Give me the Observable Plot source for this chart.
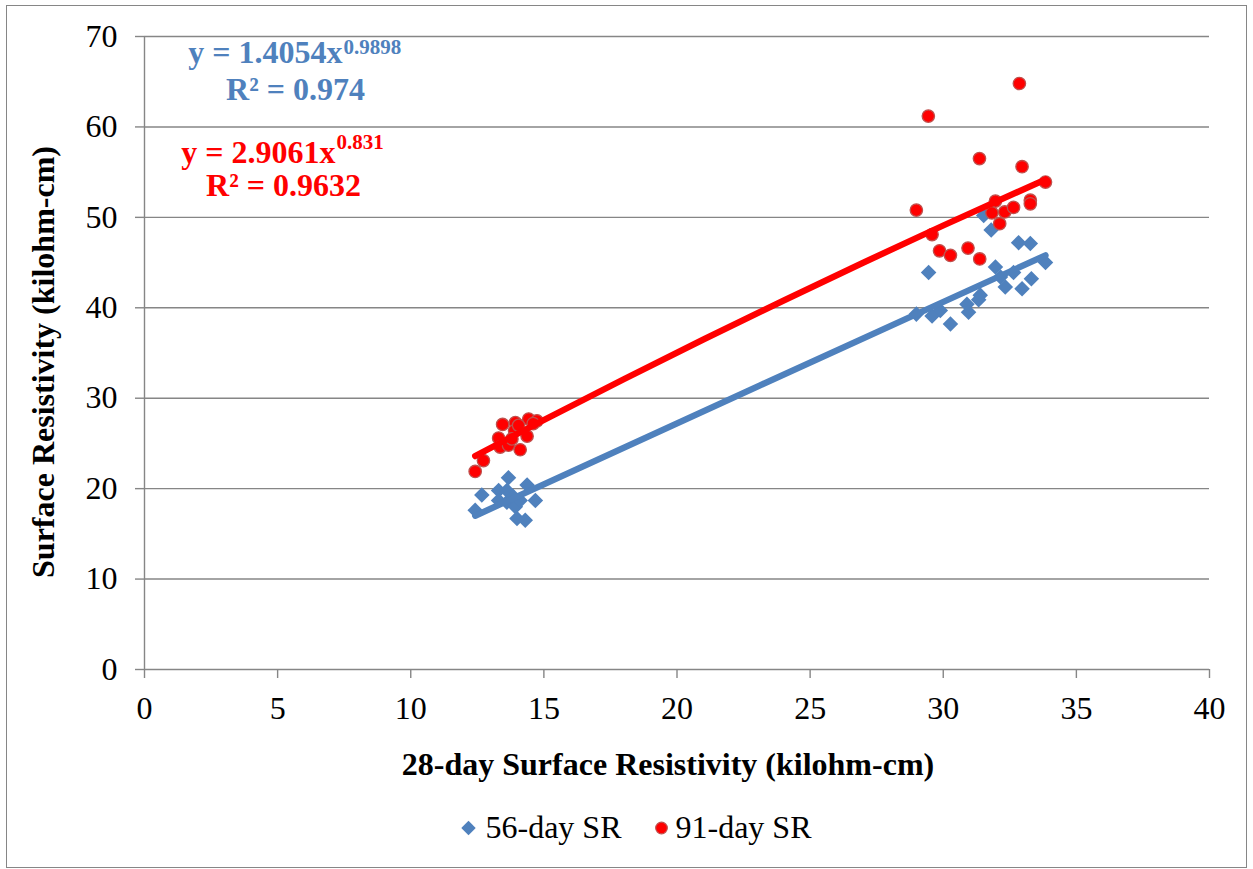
<!DOCTYPE html>
<html>
<head>
<meta charset="utf-8">
<script src="https://cdn.jsdelivr.net/npm/d3@7"></script>
<script src="https://cdn.jsdelivr.net/npm/@observablehq/plot@0.6"></script>
<style>
  html, body { margin: 0; padding: 0; background: #fff; }
  #wrap { position: relative; width: 1253px; height: 869px; overflow: hidden; }
  #border { position: absolute; left: 6px; top: 5px; width: 1241px; height: 863px; box-sizing: border-box; border: 1.5px solid #868686; pointer-events: none; }
</style>
</head>
<body>
<div id="wrap"><div id="border"></div></div>
<script>
// ---- Data ----
const x56 = [12.42, 12.67, 13.30, 13.67, 13.61, 13.30, 13.61, 13.86, 14.37, 14.68, 13.99, 14.30, 13.93, 14.11,
             31.52, 31.80, 32.83, 33.27, 29.45, 31.96, 32.15, 32.64, 33.84, 32.33, 32.96, 33.31, 31.39, 31.33, 30.89, 30.95, 29.89, 29.58, 28.99, 30.27];
const y56 = [17.6, 19.3, 19.8, 21.2, 19.8, 18.7, 18.5, 19.1, 20.4, 18.7, 16.7, 16.5, 18.0, 18.7,
             50.2, 48.6, 47.2, 47.1, 43.9, 44.5, 43.4, 43.9, 45.0, 42.3, 42.1, 43.2, 41.4, 40.9, 40.4, 39.5, 39.7, 39.1, 39.3, 38.2];
const x91 = [12.42, 12.73, 13.30, 13.45, 13.93, 13.90, 14.43, 14.74, 14.37, 14.11, 13.36, 13.67, 13.80, 14.05, 14.60,
             28.99, 29.58, 29.86, 30.27, 30.93, 31.37, 31.96, 31.83, 32.12, 32.31, 32.64, 33.27, 33.27, 33.84, 32.96, 32.86, 29.44, 31.36];
const y91 = [21.9, 23.1, 25.6, 27.1, 27.3, 26.4, 27.7, 27.5, 25.8, 24.3, 24.6, 24.8, 25.5, 27.0, 27.2,
             50.8, 48.1, 46.3, 45.8, 46.6, 45.4, 51.8, 50.5, 49.3, 50.6, 51.1, 51.9, 51.5, 53.9, 55.6, 64.8, 61.2, 56.5];
// Trendline points (power fits shown on chart)
const trend56X = [12.42, 23.1, 33.84];
const trend56Y = [17.0, 31.4, 45.8];
const trend91X = [12.42, 15, 18, 21, 24, 27, 30, 33.84];
const trend91Y = [23.6, 27.6, 32.1, 36.5, 40.8, 45.0, 49.1, 54.2];
const xTicks = [0, 5, 10, 15, 20, 25, 30, 35, 40];
const yTicks = [0, 10, 20, 30, 40, 50, 60, 70];
const series = ["56-day SR", "91-day SR"];
const eq56 = ["y = 1.4054x", "0.9898", "R² = 0.974"];
const eq91 = ["y = 2.9061x", "0.831", "R² = 0.9632"];
const xLabel = "28-day Surface Resistivity (kilohm-cm)";
const yLabel = "Surface Resistivity (kilohm-cm)";

const BLUE = "#4f81bd", RED = "#ff0000", GRAY = "#868686";
const pts56 = x56.map((x, i) => ({x, y: y56[i]}));
const pts91 = x91.map((x, i) => ({x, y: y91[i]}));
const tr56 = trend56X.map((x, i) => ({x, y: trend56Y[i]}));
const tr91 = trend91X.map((x, i) => ({x, y: trend91Y[i]}));
const font = "'Liberation Serif','Times New Roman',serif";
const T = d => d;

const chart = Plot.plot({
  width: 1253, height: 869,
  marginLeft: 144, marginRight: 44, marginTop: 36, marginBottom: 200,
  style: {fontFamily: font, fontSize: "32px", background: "transparent", color: "black"},
  x: {domain: [0, 40]},
  y: {domain: [0, 70]},
  marks: [
    Plot.gridY({ticks: yTicks.slice(1), stroke: GRAY, strokeOpacity: 1, strokeWidth: 1.4}),
    Plot.axisX({ticks: xTicks, tickSize: 9, tickPadding: 18, fontSize: 32, label: null, stroke: GRAY, strokeWidth: 1.4, fill: "black"}),
    Plot.axisY({ticks: yTicks, tickSize: 9, tickPadding: 18, fontSize: 32, label: null, stroke: GRAY, strokeWidth: 1.4, fill: "black"}),
    Plot.ruleY([0], {stroke: GRAY, strokeWidth: 1.4}),
    Plot.ruleX([0], {stroke: GRAY, strokeWidth: 1.4}),
    Plot.dot(pts56, {x: "x", y: "y", symbol: "diamond2", r: 7, fill: BLUE, stroke: "none"}),
    Plot.dot(pts91, {x: "x", y: "y", r: 6.2, fill: RED, stroke: "#c0504d", strokeWidth: 1.3}),
    Plot.line(tr56, {x: "x", y: "y", curve: "monotone-x", stroke: BLUE, strokeWidth: 6.3, strokeLinecap: "round"}),
    Plot.line(tr91, {x: "x", y: "y", curve: "monotone-x", stroke: RED, strokeWidth: 6.3, strokeLinecap: "round"}),
    // Equations
    Plot.text([eq56[0]], {text: T, frameAnchor: "top-left", dx: 198, dy: 26.5, textAnchor: "end", lineAnchor: "bottom", fill: BLUE, fontWeight: "bold", fontSize: 32}),
    Plot.text([eq56[1]], {text: T, frameAnchor: "top-left", dx: 199, dy: 17.5, textAnchor: "start", lineAnchor: "bottom", fill: BLUE, fontWeight: "bold", fontSize: 21}),
    Plot.text([eq56[2]], {text: T, frameAnchor: "top-left", dx: 151, dy: 63, textAnchor: "middle", lineAnchor: "bottom", fill: BLUE, fontWeight: "bold", fontSize: 32}),
    Plot.text([eq91[0]], {text: T, frameAnchor: "top-left", dx: 191, dy: 126.5, textAnchor: "end", lineAnchor: "bottom", fill: RED, fontWeight: "bold", fontSize: 32}),
    Plot.text([eq91[1]], {text: T, frameAnchor: "top-left", dx: 192, dy: 112.5, textAnchor: "start", lineAnchor: "bottom", fill: RED, fontWeight: "bold", fontSize: 21}),
    Plot.text([eq91[2]], {text: T, frameAnchor: "top-left", dx: 139, dy: 159, textAnchor: "middle", lineAnchor: "bottom", fill: RED, fontWeight: "bold", fontSize: 32}),
    // Axis titles
    Plot.text([xLabel], {text: T, frameAnchor: "bottom", dx: -9, dy: 95, textAnchor: "middle", lineAnchor: "middle", fontWeight: "bold", fontSize: 32, fill: "black"}),
    Plot.text([yLabel], {text: T, frameAnchor: "left", dx: -101, dy: 9, rotate: -90, textAnchor: "middle", lineAnchor: "middle", fontWeight: "bold", fontSize: 32, fill: "black"}),
    // Legend
    Plot.dot([series[0]], {frameAnchor: "bottom", dx: -208.5, dy: 158.5, symbol: "diamond2", r: 6.5, fill: BLUE}),
    Plot.text([series[0]], {text: T, frameAnchor: "bottom", dx: -191.5, dy: 158.5, textAnchor: "start", lineAnchor: "middle", fontSize: 32, fill: "black"}),
    Plot.dot([series[1]], {frameAnchor: "bottom", dx: -15.5, dy: 158.5, r: 5.8, fill: RED, stroke: "#c0504d", strokeWidth: 1.2}),
    Plot.text([series[1]], {text: T, frameAnchor: "bottom", dx: -1.5, dy: 158.5, textAnchor: "start", lineAnchor: "middle", fontSize: 32, fill: "black"})
  ]
});
document.getElementById("wrap").appendChild(chart);
chart.style.position = "absolute";
chart.style.left = "0px";
chart.style.top = "0px";
</script>
</body>
</html>
